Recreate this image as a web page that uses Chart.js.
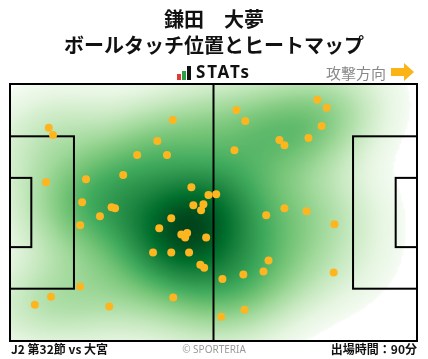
<!DOCTYPE html>
<html lang="ja">
<head>
<meta charset="utf-8">
<title>鎌田 大夢 ボールタッチ位置とヒートマップ</title>
<script src="https://cdn.jsdelivr.net/npm/chart.js@4.4.1/dist/chart.umd.min.js"></script>
<style>
  body { margin: 0; background: #fff; font-family: "Noto Sans CJK JP", "Noto Sans", sans-serif; }
  #wrap { position: relative; width: 428px; height: 359px; overflow: hidden; }
  #pitch { position: absolute; left: 0; top: 0; }
  .txt { position: absolute; white-space: nowrap; }
  .title { left: 0; width: 428px; text-align: center; font-size: 20px; font-weight: bold; line-height: 24px; color: #111; }
  #stats { left: 196px; top: 62px; font-family: "Noto Sans", sans-serif; font-weight: bold; font-size: 17px; line-height: 20px; letter-spacing: 1.8px; color: #111; }
  .bar { position: absolute; width: 4px; }
  #dir { left: 326px; top: 63px; font-size: 15px; line-height: 20px; color: #888; }
  #arrow { position: absolute; left: 390px; top: 63px; }
  .foot { top: 342px; font-size: 12px; line-height: 14px; font-weight: bold; color: #111; }
  #copy { left: 0; width: 428px; text-align: center; top: 342px; font-family: "Noto Sans", sans-serif; font-size: 10px; line-height: 14px; color: #999; }
</style>
</head>
<body>
<div id="wrap">
  <canvas id="pitch" width="428" height="359"></canvas>
  <div class="txt title" style="top:7px">鎌田　大夢</div>
  <div class="txt title" style="top:33px">ボールタッチ位置とヒートマップ</div>
  <div class="bar" style="left:177px; top:74px; height:6px; background:#e53935"></div>
  <div class="bar" style="left:182px; top:71px; height:9px; background:#2e9e44"></div>
  <div class="bar" style="left:187px; top:66px; height:14px; background:#111"></div>
  <div class="txt" id="stats">STATs</div>
  <div class="txt" id="dir">攻撃方向</div>
  <svg id="arrow" width="26" height="18" viewBox="0 0 26 18">
    <polygon points="1,5 14,5 14,0 24,9 14,18 14,13 1,13" fill="#fbb416"/>
  </svg>
  <div class="txt foot" style="left:11px">J2 第32節 vs 大宮</div>
  <div class="txt" id="copy">© SPORTERIA</div>
  <div class="txt foot" style="right:11px">出場時間：90分</div>
</div>
<script>
    // Pitch size in metres (attack goes left -> right)
    const PITCH_LENGTH = 105;
    const PITCH_WIDTH = 68;

    // Ball touch positions, metres from own goal line / bottom touchline
    const touchX = [10.0, 11.1, 42.0, 38.0, 32.8, 40.5, 29.2, 19.6, 9.3, 46.8,
                    51.2, 18.6, 26.2, 27.1, 47.3, 49.9, 49.3, 53.2, 41.6, 38.5,
                    44.2, 45.7, 45.2, 50.6, 36.9, 41.6, 46.2, 49.1, 50.1, 54.8,
                    23.2, 18.1, 18.1, 10.6, 6.4, 25.6, 42.1, 79.3, 81.7, 58.4,
                    60.7, 80.4, 69.5, 70.8, 77.0, 57.9, 70.8, 76.5, 66.1, 83.7,
                    66.7, 60.2, 65.4, 83.5, 60.5, 54.5];
    const touchY = [56.4, 54.5, 58.5, 52.9, 49.2, 49.2, 43.9, 42.8, 42.0, 40.7,
                    38.6, 36.7, 35.4, 35.1, 35.9, 36.2, 34.6, 38.8, 32.5, 29.8,
                    28.2, 28.6, 27.4, 27.4, 23.4, 23.4, 23.4, 20.2, 19.4, 16.4,
                    33.0, 30.6, 14.4, 11.7, 9.6, 9.1, 11.5, 63.8, 61.7, 61.1,
                    58.2, 56.9, 53.2, 51.8, 53.7, 50.5, 35.1, 34.3, 33.3, 30.9,
                    21.3, 17.6, 18.4, 18.1, 8.3, 6.4];

    // matplotlib "Greens"
    const GREENS = ['#f7fcf5', '#e5f5e0', '#c7e9c0', '#a1d99b', '#74c476',
                    '#41ab5d', '#238b45', '#006d2c', '#00441b'];

    function hexToRgb(h) {
        return [parseInt(h.slice(1, 3), 16), parseInt(h.slice(3, 5), 16), parseInt(h.slice(5, 7), 16)];
    }
    const greensRgb = GREENS.map(hexToRgb);

    function greens(t) {
        t = Math.max(0, Math.min(1, t));
        const pos = t * (greensRgb.length - 1);
        const i = Math.min(Math.floor(pos), greensRgb.length - 2);
        const f = pos - i;
        const a = greensRgb[i], b = greensRgb[i + 1];
        return [a[0] + (b[0] - a[0]) * f, a[1] + (b[1] - a[1]) * f, a[2] + (b[2] - a[2]) * f];
    }

    // Gaussian KDE (Scott's rule, full covariance) evaluated on a grid a bit larger than the pitch
    const GRID_PAD = 35;
    const GRID_RES = 2; // cells per metre
    const BW_ADJUST = 1.05;
    const THRESH = 0.022;
    const GAMMA = 0.72;
    let heatCanvas = null;

    function buildHeat() {
        const n = touchX.length;
        const mx = touchX.reduce((s, v) => s + v, 0) / n;
        const my = touchY.reduce((s, v) => s + v, 0) / n;
        let sxx = 0, syy = 0, sxy = 0;
        for (let k = 0; k < n; k++) {
            const dx = touchX[k] - mx, dy = touchY[k] - my;
            sxx += dx * dx; syy += dy * dy; sxy += dx * dy;
        }
        const f2 = Math.pow(n, -2 / 6) * BW_ADJUST * BW_ADJUST;
        const cxx = sxx / (n - 1) * f2, cyy = syy / (n - 1) * f2, cxy = sxy / (n - 1) * f2;
        const det = cxx * cyy - cxy * cxy;
        const ixx = cyy / det, iyy = cxx / det, ixy = -cxy / det;

        const cols = (PITCH_LENGTH + 2 * GRID_PAD) * GRID_RES;
        const rows = (PITCH_WIDTH + 2 * GRID_PAD) * GRID_RES;
        const dens = new Float64Array(cols * rows);
        let max = 0;
        for (let r = 0; r < rows; r++) {
            const gy = PITCH_WIDTH + GRID_PAD - (r + 0.5) / GRID_RES;
            for (let c = 0; c < cols; c++) {
                const gx = -GRID_PAD + (c + 0.5) / GRID_RES;
                let s = 0;
                for (let k = 0; k < n; k++) {
                    const dx = gx - touchX[k], dy = gy - touchY[k];
                    s += Math.exp(-0.5 * (ixx * dx * dx + 2 * ixy * dx * dy + iyy * dy * dy));
                }
                dens[r * cols + c] = s;
                if (s > max) max = s;
            }
        }

        // lowest part of the mass is left blank
        const sorted = Array.from(dens).sort((a, b) => a - b);
        const total = sorted.reduce((s, v) => s + v, 0);
        let acc = 0, thresh = 0;
        for (let i = 0; i < sorted.length; i++) {
            acc += sorted[i];
            if (acc >= THRESH * total) { thresh = sorted[i]; break; }
        }

        const cv = document.createElement('canvas');
        cv.width = cols; cv.height = rows;
        const cctx = cv.getContext('2d');
        const img = cctx.createImageData(cols, rows);
        for (let i = 0; i < dens.length; i++) {
            const d = dens[i];
            if (d < thresh) { img.data[i * 4 + 3] = 0; continue; }
            const rgb = greens(Math.pow((d - thresh) / (max - thresh), GAMMA));
            img.data[i * 4] = rgb[0];
            img.data[i * 4 + 1] = rgb[1];
            img.data[i * 4 + 2] = rgb[2];
            img.data[i * 4 + 3] = 255;
        }
        cctx.putImageData(img, 0, 0);
        return cv;
    }

    const pitchPlugin = {
        id: 'pitch',
        beforeDatasetsDraw(chart) {
            const { ctx, chartArea: area, scales: { x, y } } = chart;
            if (!heatCanvas) heatCanvas = buildHeat();

            // heatmap
            ctx.save();
            ctx.beginPath();
            ctx.rect(area.left, area.top, area.right - area.left, area.bottom - area.top);
            ctx.clip();
            ctx.imageSmoothingEnabled = true;
            const x0 = x.getPixelForValue(-GRID_PAD), x1 = x.getPixelForValue(PITCH_LENGTH + GRID_PAD);
            const y0 = y.getPixelForValue(PITCH_WIDTH + GRID_PAD), y1 = y.getPixelForValue(-GRID_PAD);
            ctx.drawImage(heatCanvas, x0, y0, x1 - x0, y1 - y0);
            ctx.restore();

            // markings
            const box = (ax, ay, bx, by) => {
                const px = x.getPixelForValue(ax), py = y.getPixelForValue(by);
                ctx.strokeRect(px, py, x.getPixelForValue(bx) - px, y.getPixelForValue(ay) - py);
            };
            ctx.save();
            ctx.strokeStyle = '#000';
            ctx.lineWidth = 2;
            box(0, 0, PITCH_LENGTH, PITCH_WIDTH);
            const mid = x.getPixelForValue(PITCH_LENGTH / 2);
            ctx.beginPath();
            ctx.moveTo(mid, y.getPixelForValue(0));
            ctx.lineTo(mid, y.getPixelForValue(PITCH_WIDTH));
            ctx.stroke();
            const pa = (PITCH_WIDTH - 40.32) / 2, ga = (PITCH_WIDTH - 18.32) / 2;
            box(0, pa, 16.5, PITCH_WIDTH - pa);
            box(0, ga, 5.5, PITCH_WIDTH - ga);
            box(PITCH_LENGTH - 16.5, pa, PITCH_LENGTH, PITCH_WIDTH - pa);
            box(PITCH_LENGTH - 5.5, ga, PITCH_LENGTH, PITCH_WIDTH - ga);
            ctx.restore();
        }
    };

    const ctx = document.getElementById('pitch').getContext('2d');
    new Chart(ctx, {
        type: 'scatter',
        data: {
            datasets: [{
                label: 'ボールタッチ',
                data: touchX.map((v, i) => ({ x: v, y: touchY[i] })),
                backgroundColor: '#fdb520',
                borderWidth: 0,
                pointRadius: 4,
                pointHoverRadius: 4
            }]
        },
        options: {
            responsive: false,
            animation: false,
            events: [],
            layout: { padding: { left: 10, right: 11, top: 84, bottom: 18 } },
            scales: {
                x: { type: 'linear', min: 0, max: PITCH_LENGTH, display: false },
                y: { type: 'linear', min: 0, max: PITCH_WIDTH, display: false }
            },
            plugins: {
                legend: { display: false },
                tooltip: { enabled: false }
            }
        },
        plugins: [pitchPlugin]
    });
</script>
</body>
</html>
